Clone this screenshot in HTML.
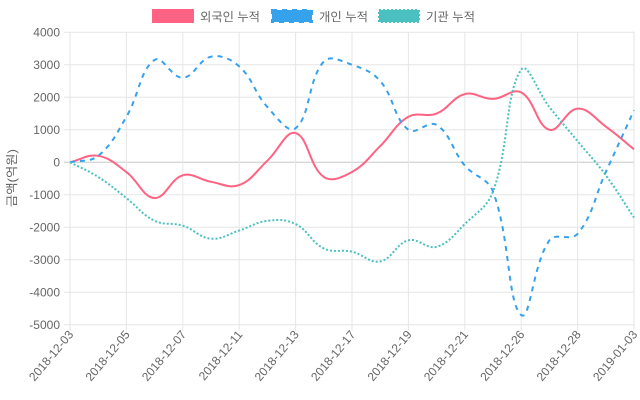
<!DOCTYPE html>
<html><head><meta charset="utf-8"><style>
html,body{margin:0;padding:0;background:#fff;width:640px;height:400px;overflow:hidden}
svg text{font-family:"Liberation Sans","Noto Sans CJK KR",sans-serif;fill:#666;font-size:12px}
</style></head><body>
<svg id="s" width="640" height="400" xmlns="http://www.w3.org/2000/svg"></svg>
<script>
const s=document.getElementById('s');
const X0=70,DX=28.2,Y0=162.3,SY=0.0325;
const dates=['2018-12-03','2018-12-04','2018-12-05','2018-12-06','2018-12-07','2018-12-10','2018-12-11','2018-12-12','2018-12-13','2018-12-14','2018-12-17','2018-12-18','2018-12-19','2018-12-20','2018-12-21','2018-12-24','2018-12-26','2018-12-27','2018-12-28','2018-12-31','2019-01-03'];
let h='';
for(let v=4000;v>=-5000;v-=1000){const y=Y0-v*SY;
 h+=`<line x1="${X0-6}" x2="${X0+564}" y1="${y}" y2="${y}" stroke="${v==0?'#c8c8c8':'#e6e6e6'}" stroke-width="1"/>`;
 h+=`<text x="${X0-10}" y="${y+4}" text-anchor="end">${v}</text>`;}
for(let i=0;i<=20;i+=2){const x=X0+i*DX;
 h+=`<line x1="${x}" x2="${x}" y1="32" y2="${Y0+5000*SY+6}" stroke="#e6e6e6"/>`;
 h+=`<text transform="translate(${x+4},${Y0+5000*SY+10}) rotate(-50)" text-anchor="end">${dates[i]}</text>`;}
h+=`<text transform="translate(16,178) rotate(-90)" text-anchor="middle" textLength="58" lengthAdjust="spacingAndGlyphs">금액(억원)</text>`;
const series=[
 {c:'#ff6384',d:'',w:2,v:[0,200,-300,-1100,-400,-600,-700,50,900,-450,-300,500,1400,1500,2100,1950,2150,1000,1650,1100,400]},
 {c:'#36a2eb',d:'5,5',w:2,v:[0,200,1400,3150,2600,3250,2950,1700,1050,3100,3000,2500,1000,1150,-100,-900,-4700,-2400,-2200,-300,1600]},
 {c:'#4bc0c0',d:'2,2',w:2,v:[0,-450,-1100,-1800,-1950,-2350,-2100,-1800,-1900,-2650,-2750,-3050,-2400,-2600,-1900,-900,2850,1700,650,-400,-1700]}];
for(const se of series){
 const p=se.v.map((v,i)=>({x:X0+i*DX,y:Y0-v*SY}));
 const t=0.4;const cp=[];
 for(let i=0;i<p.length;i++){const pr=p[Math.max(0,i-1)],c=p[i],n=p[Math.min(p.length-1,i+1)];
  const d01=Math.hypot(c.x-pr.x,c.y-pr.y),d12=Math.hypot(n.x-c.x,n.y-c.y);
  let fa=d01/(d01+d12),fb=d12/(d01+d12);if(isNaN(fa))fa=0;if(isNaN(fb))fb=0;
  cp.push({px:c.x-t*fa*(n.x-pr.x),py:c.y-t*fa*(n.y-pr.y),nx:c.x+t*fb*(n.x-pr.x),ny:c.y+t*fb*(n.y-pr.y)});}
 let d=`M${p[0].x},${p[0].y}`;
 for(let i=1;i<p.length;i++)d+=`C${cp[i-1].nx},${cp[i-1].ny} ${cp[i].px},${cp[i].py} ${p[i].x},${p[i].y}`;
 h+=`<path d="${d}" fill="none" stroke="${se.c}" stroke-width="${se.w}" ${se.d?`stroke-dasharray="${se.d}"`:''}/>`;}
const lg=[[153,'#ff6384','rgba(255,99,132,1)','외국인 누적','',200,60],[272,'#36a2eb','#36a2eb','개인 누적','5,5',319,49],[379,'#4bc0c0','#4bc0c0','기관 누적','2,2',426,49]];
for(const l of lg){h+=`<rect x="${l[0]}" y="10" width="40" height="12" fill="${l[1]}" stroke="${l[2]}" stroke-width="2" ${l[4]?`stroke-dasharray="${l[4]}"`:''}/>`;
 h+=`<text x="${l[5]}" y="21" textLength="${l[6]}" lengthAdjust="spacingAndGlyphs">${l[3]}</text>`;}
s.innerHTML=h;
</script>
</body></html>
